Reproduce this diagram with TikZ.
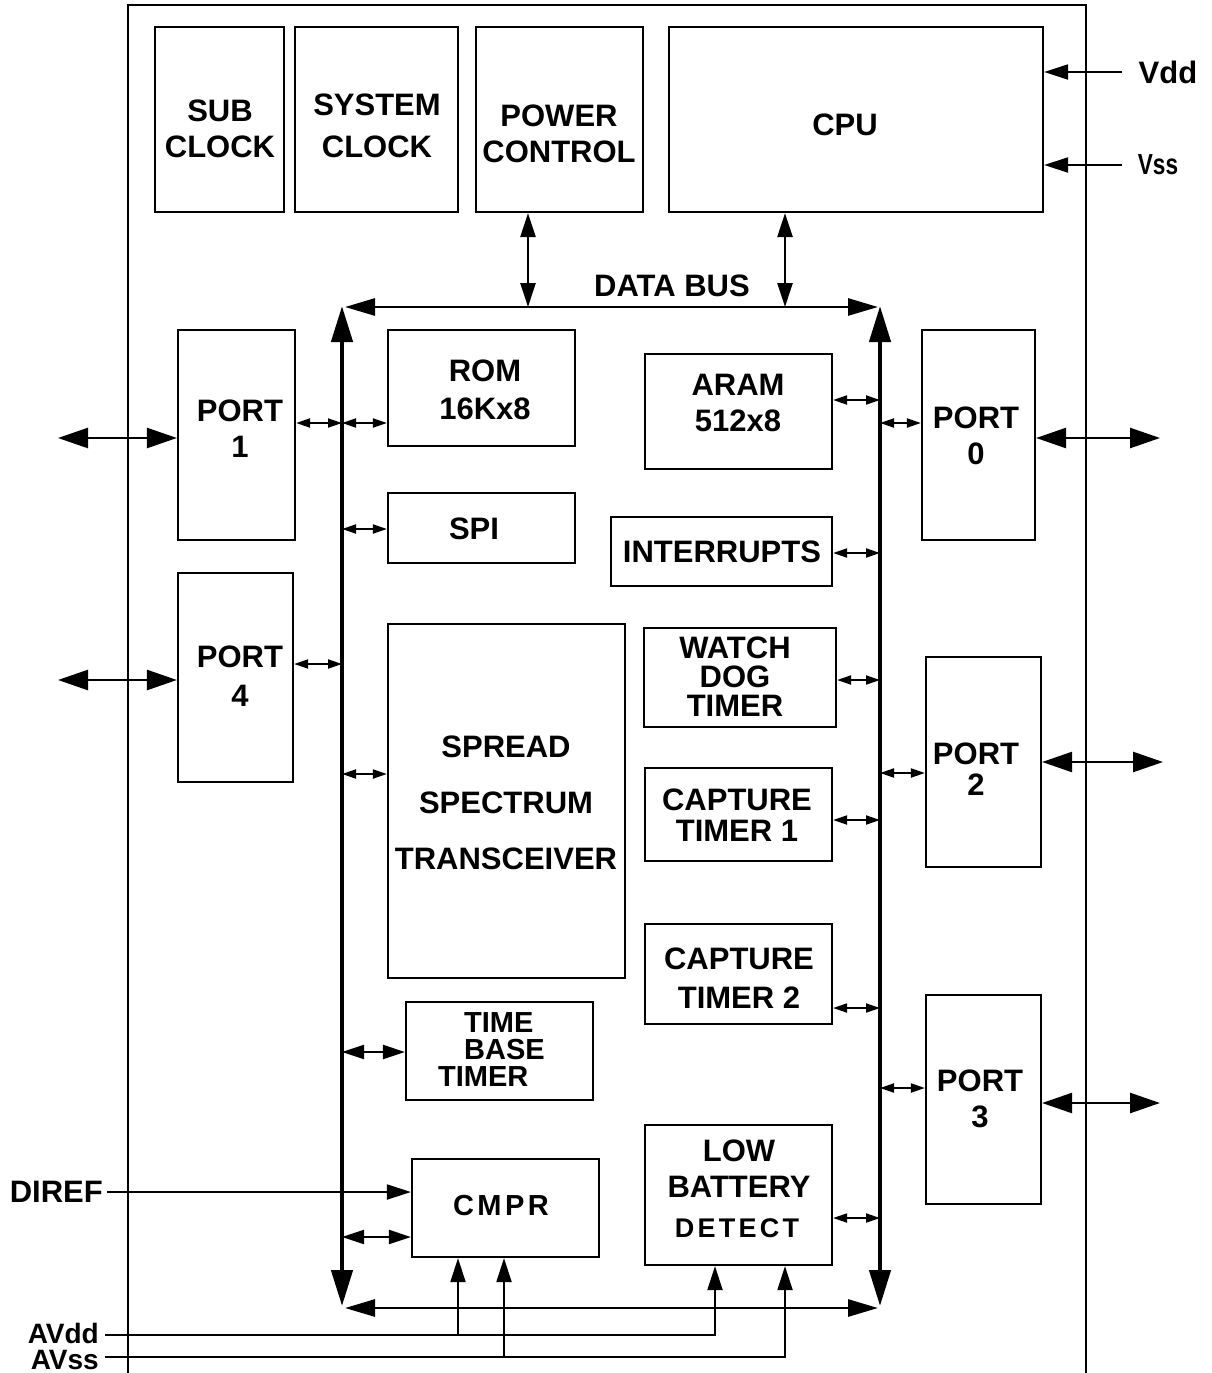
\documentclass[tikz,border=0pt]{standalone}
\usepackage{fontspec}
\setmainfont{Liberation Sans}
\usetikzlibrary{arrows.meta,fit}
\begin{document}
\begin{tikzpicture}[x=1pt,y=-1pt,
  box/.style={draw, line width=2.2pt, inner sep=0pt},
  lbl/.style={font=\bfseries\fontsize{31}{36}\selectfont, align=center, inner sep=0pt},
  sarr/.style={line width=2pt, {Triangle[length=14pt,width=9pt]}-{Triangle[length=14pt,width=9pt]}},
  marr/.style={line width=2.2pt, {Triangle[length=22pt,width=14pt]}-{Triangle[length=22pt,width=14pt]}},
  barr/.style={line width=2.5pt, {Triangle[length=30pt,width=20pt]}-{Triangle[length=30pt,width=20pt]}},
  varr/.style={line width=2.5pt, {Triangle[length=24pt,width=15pt]}-{Triangle[length=24pt,width=15pt]}},
  inarr/.style={line width=2pt, -{Triangle[length=24pt,width=15pt]}},
  hbus/.style={line width=2.8pt, {Triangle[length=30pt,width=17pt]}-{Triangle[length=30pt,width=17pt]}},
  vbus/.style={line width=4.5pt, {Triangle[length=36pt,width=21pt]}-{Triangle[length=36pt,width=21pt]}},
  pin/.style={line width=2pt}
]
\useasboundingbox (0,0) rectangle (1211,1373);
\fill[white] (0,0) rectangle (1211,1373);

% chip outline
\draw[line width=2pt] (128,1373) -- (128,5) -- (1086,5) -- (1086,1373);

% blocks
\node[box, fit={(155,27)(284,212)}] (sub) {};
\node[box, fit={(295,27)(458,212)}] (sysclk) {};
\node[box, fit={(476,27)(643,212)}] (power) {};
\node[box, fit={(669,27)(1043,212)}] (cpu) {};
\node[box, fit={(178,330)(295,540)}] (port1) {};
\node[box, fit={(388,330)(575,446)}] (rom) {};
\node[box, fit={(388,493)(575,563)}] (spi) {};
\node[box, fit={(178,573)(293,782)}] (port4) {};
\node[box, fit={(388,624)(625,978)}] (sst) {};
\node[box, fit={(406,1002)(593,1100)}] (tbt) {};
\node[box, fit={(412,1159)(599,1257)}] (cmpr) {};
\node[box, fit={(645,354)(832,469)}] (aram) {};
\node[box, fit={(611,517)(832,586)}] (intr) {};
\node[box, fit={(644,628)(836,727)}] (wdt) {};
\node[box, fit={(645,768)(832,861)}] (ct1) {};
\node[box, fit={(645,924)(832,1024)}] (ct2) {};
\node[box, fit={(645,1125)(832,1265)}] (lbd) {};
\node[box, fit={(922,330)(1035,540)}] (port0) {};
\node[box, fit={(926,657)(1041,867)}] (port2) {};
\node[box, fit={(926,995)(1041,1204)}] (port3) {};

% texts
\node[lbl] (t-sub) at (220,129) {SUB\\CLOCK};
\node[lbl] (t-sys) at (377,126) {SYSTEM\\[6pt]CLOCK};
\node[lbl] (t-pow) at (559,134) {POWER\\CONTROL};
\node[lbl] (t-cpu) at (845,125) {CPU};
\node[lbl] (t-bus) at (672,286) {DATA BUS};
\node[lbl] (t-p1) at (240,429) {PORT\\1};
\node[lbl] (t-rom) at (485,390) {ROM\\[2pt]16Kx8};
\node[lbl] (t-spi) at (474,529) {SPI};
\node[lbl] (t-p4) at (240,676) {PORT\\[3pt]4};
\node[lbl, font=\bfseries\fontsize{31}{56}\selectfont] (t-sst) at (506,803) {SPREAD\\SPECTRUM\\TRANSCEIVER};
\node[lbl, align=left, anchor=west, font=\bfseries\fontsize{29}{27}\selectfont] (t-tbt) at (438,1050) {\hspace*{26pt}TIME\\\hspace*{26pt}BASE\\TIMER};
\node[lbl, font=\bfseries\fontsize{29}{34}\selectfont\addfontfeature{LetterSpace=12}] (t-cmpr) at (501,1206) {CMPR};
\node[lbl] (t-aram) at (738,403) {ARAM\\512x8};
\node[lbl] (t-intr) at (722,552) {INTERRUPTS};
\node[lbl, font=\bfseries\fontsize{31}{29}\selectfont] (t-wdt) at (735,677) {WATCH\\DOG\\TIMER};
\node[lbl, font=\bfseries\fontsize{31}{31}\selectfont] (t-ct1) at (737,815) {CAPTURE\\TIMER 1};
\node[lbl, font=\bfseries\fontsize{31}{39}\selectfont] (t-ct2) at (739,978) {CAPTURE\\TIMER 2};
\node[lbl, font=\bfseries\fontsize{31}{36}\selectfont] (t-lbd1) at (739,1169) {LOW\\BATTERY};
\node[lbl, font=\bfseries\fontsize{27}{34}\selectfont\addfontfeature{LetterSpace=12}] (t-lbd2) at (737,1228) {DETECT};
\node[lbl] (t-p0) at (976,436) {PORT\\0};
\node[lbl, font=\bfseries\fontsize{31}{31}\selectfont] (t-p2) at (976,769) {PORT\\2};
\node[lbl] (t-p3) at (980,1099) {PORT\\3};

% pin labels
\node[lbl] (vdd) at (1168,72) {Vdd};
\node[lbl, font=\bfseries\fontsize{29}{34}\selectfont] (vss) at (1158,165) {\scalebox{0.78}[1]{Vss}};
\node[lbl, anchor=east] (diref) at (103,1192) {DIREF};
\node[lbl, anchor=east, font=\bfseries\fontsize{28}{34}\selectfont] (avdd) at (99,1333) {AVdd};
\node[lbl, anchor=east, font=\bfseries\fontsize{28}{34}\selectfont] (avss) at (99,1360) {AVss};

% data bus
\coordinate (btl) at (342,307);
\coordinate (btr) at (880,307);
\coordinate (bbl) at (342,1308);
\coordinate (bbr) at (880,1308);
\draw[hbus] ([xshift=3pt]btl) -- ([xshift=-2pt]btr);
\draw[hbus] ([xshift=3pt]bbl) -- ([xshift=-2pt]bbr);
\draw[vbus] ([yshift=2pt]bbl) -- ([yshift=1pt]btl);
\draw[vbus] ([yshift=2pt]bbr) -- ([yshift=1pt]btr);

% top connections
\draw[varr] (power.south -| 528,0) -- (btl -| 528,0);
\draw[varr] (cpu.south -| 785,0) -- (btl -| 785,0);

% left side to bus
\draw[sarr] (port1.east |- 0,423) -- (btl |- 0,423);
\draw[sarr] (btl |- 0,423) -- (rom.west |- 0,423);
\draw[sarr] (btl |- 0,529) -- (spi.west |- 0,529);
\draw[sarr] (port4.east |- 0,664) -- (btl |- 0,664);
\draw[sarr] (btl |- 0,774) -- (sst.west |- 0,774);
\draw[marr] (btl |- 0,1052) -- (tbt.west |- 0,1052);
\draw[marr] (btl |- 0,1237) -- (cmpr.west |- 0,1237);

% right side to bus
\draw[sarr] (aram.east |- 0,400) -- (btr |- 0,400);
\draw[sarr] (btr |- 0,423) -- (port0.west |- 0,423);
\draw[sarr] (intr.east |- 0,553) -- (btr |- 0,553);
\draw[sarr] (wdt.east |- 0,680) -- (btr |- 0,680);
\draw[sarr] (btr |- 0,773) -- (port2.west |- 0,773);
\draw[sarr] (ct1.east |- 0,820) -- (btr |- 0,820);
\draw[sarr] (ct2.east |- 0,1008) -- (btr |- 0,1008);
\draw[sarr] (btr |- 0,1088) -- (port3.west |- 0,1088);
\draw[sarr] (lbd.east |- 0,1218) -- (btr |- 0,1218);

% external port pins
\coordinate (e1) at (58,438);
\coordinate (e4) at (58,680);
\coordinate (e0) at (1160,438);
\coordinate (e2) at (1163,762);
\coordinate (e3) at (1160,1103);
\draw[barr] (e1) -- (port1.west |- e1);
\draw[barr] (e4) -- (port4.west |- e4);
\draw[barr] (port0.east |- e0) -- (e0);
\draw[barr] (port2.east |- e2) -- (e2);
\draw[barr] (port3.east |- e3) -- (e3);

% power pins
\coordinate (vddp) at (1122,72);
\coordinate (vssp) at (1122,165);
\draw[inarr] (vddp) -- (cpu.east |- vddp);
\draw[inarr] (vssp) -- (cpu.east |- vssp);

% analog pins
\draw[inarr] ([xshift=4pt]diref.east) -- (cmpr.west |- diref.east);
\draw[inarr] ([xshift=6pt]avdd.east |- 0,1335) -| (lbd.south -| 715,0);
\draw[inarr] (458,1335) -- (cmpr.south -| 458,0);
\draw[inarr] ([xshift=6pt]avss.east |- 0,1357) -| (lbd.south -| 785,0);
\draw[inarr] (504,1357) -- (cmpr.south -| 504,0);
\end{tikzpicture}
\end{document}
